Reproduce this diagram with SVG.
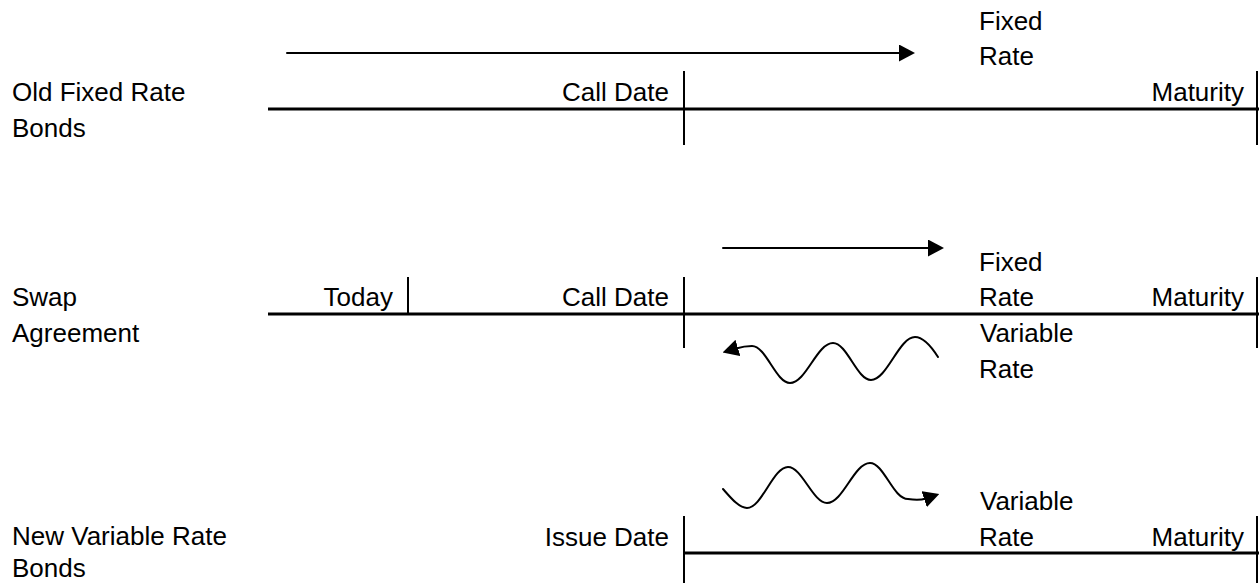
<svg xmlns="http://www.w3.org/2000/svg" width="1259" height="583" viewBox="0 0 1259 583">
  <style>
    text { font-family: "Liberation Sans", Arial, sans-serif; font-size: 26px; fill: #000; }
    .end { text-anchor: end; }
    .axis { stroke: #000; stroke-width: 3; fill: none; }
    .tick { stroke: #000; stroke-width: 2; fill: none; }
    .flow { stroke: #000; stroke-width: 2; fill: none; stroke-linecap: round; }
  </style>
  <defs>
    <marker id="head" viewBox="0 0 16 17" refX="2" refY="8.5" markerWidth="16" markerHeight="17" markerUnits="userSpaceOnUse" orient="auto">
      <path d="M0,0 L16,8.5 L0,17 Z" fill="#000"/>
    </marker>
  </defs>

  <!-- Old fixed rate bonds -->
  <g id="old-fixed-rate-bonds">
    <text x="12" y="101">Old Fixed Rate</text>
    <text x="12" y="137">Bonds</text>
    <line class="axis" x1="268" y1="109" x2="1259" y2="109"/>
    <line class="tick" x1="684" y1="71" x2="684" y2="145"/>
    <line class="tick" x1="1257" y1="71" x2="1257" y2="145"/>
    <text class="end" x="669" y="101">Call Date</text>
    <text class="end" x="1244" y="101">Maturity</text>
    <text x="979" y="30">Fixed</text>
    <text x="979" y="65">Rate</text>
  </g>

  <!-- Swap agreement -->
  <g id="swap-agreement">
    <text x="12" y="306">Swap</text>
    <text x="12" y="342">Agreement</text>
    <line class="axis" x1="268" y1="314" x2="1259" y2="314"/>
    <line class="tick" x1="408" y1="277" x2="408" y2="314"/>
    <line class="tick" x1="684" y1="277" x2="684" y2="348"/>
    <line class="tick" x1="1257" y1="277" x2="1257" y2="348"/>
    <text class="end" x="393" y="306">Today</text>
    <text class="end" x="669" y="306">Call Date</text>
    <text class="end" x="1244" y="306">Maturity</text>
    <text x="979" y="271">Fixed</text>
    <text x="979" y="306">Rate</text>
    <text x="980" y="342">Variable</text>
    <text x="979" y="378">Rate</text>
  </g>

  <!-- New variable rate bonds -->
  <g id="new-variable-rate-bonds">
    <text x="12" y="545">New Variable Rate</text>
    <text x="12" y="577">Bonds</text>
    <line class="axis" x1="684" y1="553" x2="1259" y2="553"/>
    <line class="tick" x1="684" y1="516" x2="684" y2="583"/>
    <line class="tick" x1="1257" y1="516" x2="1257" y2="583"/>
    <text class="end" x="669" y="546">Issue Date</text>
    <text class="end" x="1244" y="546">Maturity</text>
    <text x="980" y="510">Variable</text>
    <text x="979" y="546">Rate</text>
  </g>

  <!-- Payment flows -->
  <g id="connectors">
    <line class="flow" x1="287" y1="53" x2="901" y2="53" marker-end="url(#head)"/>
    <line class="flow" x1="723" y1="248" x2="930" y2="248" marker-end="url(#head)"/>
    <path class="flow" marker-end="url(#head)"
          d="M938,357 C931,346 923,337 915,337 C899,337 887,380 871,380 C857,380 847,343 833,343 C817,343 806,383 790,383 C776,383 766,346 752,346 C746,346 741,347 736,348.5"/>
    <path class="flow" marker-end="url(#head)"
          d="M723,489 C731,498 739,508 747,508 C762,508 773,467 788,467 C802,467 813,503 827,503 C843,503 854,463 870,463 C884,463 893,499 908,499 C914,500 920,500.5 926,498.5"/>
  </g>
</svg>
